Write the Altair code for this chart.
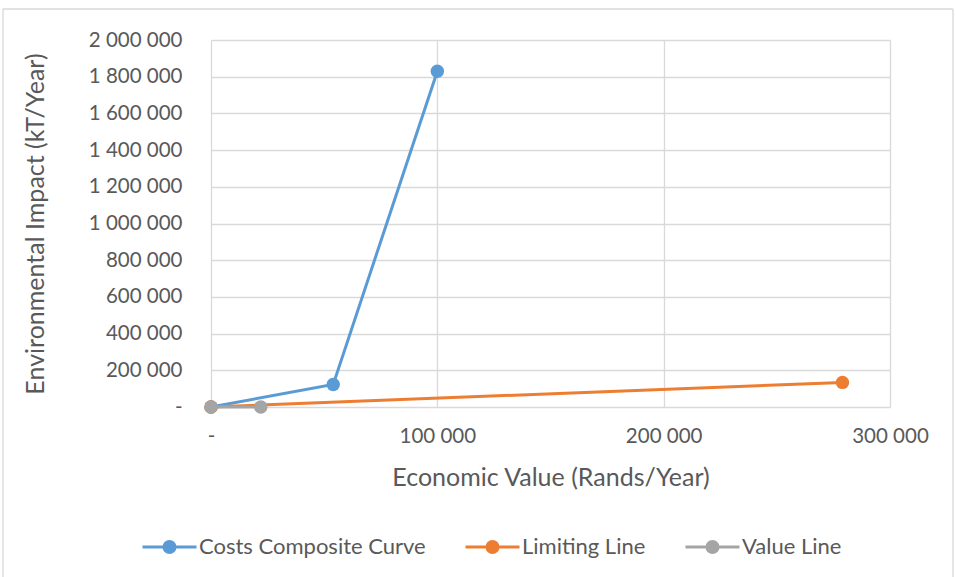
import altair as alt
import pandas as pd

# Series as drawn: economic value (Rands/Year) vs environmental impact (kT/Year)
series_names = ["Costs Composite Curve", "Limiting Line", "Value Line"]
series_colors = ["#5B9BD5", "#ED7D31", "#A5A5A5"]

costs_x = [0, 54000, 100000]
costs_y = [0, 123000, 1830000]

limiting_x = [0, 279000]
limiting_y = [0, 134000]

value_x = [0, 22000]
value_y = [0, 0]

x_ticks = [0, 100000, 200000, 300000]
y_ticks = [0, 200000, 400000, 600000, 800000, 1000000, 1200000, 1400000,
           1600000, 1800000, 2000000]

rows = []
for name, xs, ys in zip(series_names,
                        [costs_x, limiting_x, value_x],
                        [costs_y, limiting_y, value_y]):
    for i, (xv, yv) in enumerate(zip(xs, ys)):
        rows.append({"series": name, "x": xv, "y": yv, "order": i})
df = pd.DataFrame(rows)

FONT = "Lato"
TEXT = "#595959"
GRID = "#D9D9D9"

# thousands separated by spaces, zero shown as a dash
num_expr = "datum.value == 0 ? '-' : join(split(format(datum.value, ','), ','), ' ')"


def ring(r):
    return "M-{0},0A{0},{0} 0 1,0 {0},0A{0},{0} 0 1,0 -{0},0".format(r)


# legend glyph: short line with a solid dot (concentric stroked rings) in the middle
legend_glyph = "M-1,0H1" + "".join(ring(r) for r in (0.03, 0.09, 0.15, 0.205))

color = alt.Color(
    "series:N",
    scale=alt.Scale(domain=series_names, range=series_colors),
    sort=series_names,
    legend=alt.Legend(
        title=None,
        orient="none",
        direction="horizontal",
        legendX=-70,
        legendY=478,
        symbolType=legend_glyph,
        symbolSize=2916,
        symbolStrokeWidth=3,
        labelOffset=1,
        columnPadding=33,
        padding=0,
        labelFont=FONT,
        labelFontSize=22,
        labelColor=TEXT,
        labelLimit=400,
    ),
)

lines = alt.Chart(df).mark_line(
    strokeWidth=3,
    point=alt.OverlayMarkDef(filled=True, size=180, opacity=1),
).encode(
    x=alt.X(
        "x:Q",
        scale=alt.Scale(domain=[0, 300000], nice=False),
        axis=alt.Axis(
            title="Economic Value (Rands/Year)",
            values=x_ticks,
            labelExpr=num_expr,
            labelFlush=False,
            labelPadding=19.5,
            titlePadding=18,
        ),
    ),
    y=alt.Y(
        "y:Q",
        scale=alt.Scale(domain=[0, 2000000], nice=False),
        axis=alt.Axis(
            title="Environmental Impact (kT/Year)",
            values=y_ticks,
            labelExpr=num_expr,
            labelFlush=False,
            labelPadding=29,
            titlePadding=40,
        ),
    ),
    color=color,
    detail="series:N",
    order="order:Q",
)

# chart frame: left, top and right edges
frame_data = alt.Data(values=[{}])
frame_left = alt.Chart(frame_data).mark_rule(color=GRID, strokeWidth=1.3).encode(
    x=alt.value(-208), y=alt.value(-31), y2=alt.value(537))
frame_top = alt.Chart(frame_data).mark_rule(color=GRID, strokeWidth=1.3).encode(
    x=alt.value(-208), x2=alt.value(742), y=alt.value(-31))
frame_right = alt.Chart(frame_data).mark_rule(color=GRID, strokeWidth=1.3).encode(
    x=alt.value(742), y=alt.value(-31), y2=alt.value(537))

chart = alt.layer(lines, frame_left, frame_top, frame_right).properties(
    width=679,
    height=367,
    padding={"left": 2, "top": 8, "right": 0, "bottom": 0},
    background="white",
).configure_view(
    stroke=None,
).configure_axis(
    domain=False,
    ticks=False,
    grid=True,
    gridColor=GRID,
    gridWidth=1.3,
    labelFont=FONT,
    labelFontSize=20.5,
    labelColor=TEXT,
    titleFont=FONT,
    titleFontSize=25,
    titleFontWeight="normal",
    titleColor=TEXT,
)

chart.save("out.html", embed_options={"renderer": "svg", "actions": False})
